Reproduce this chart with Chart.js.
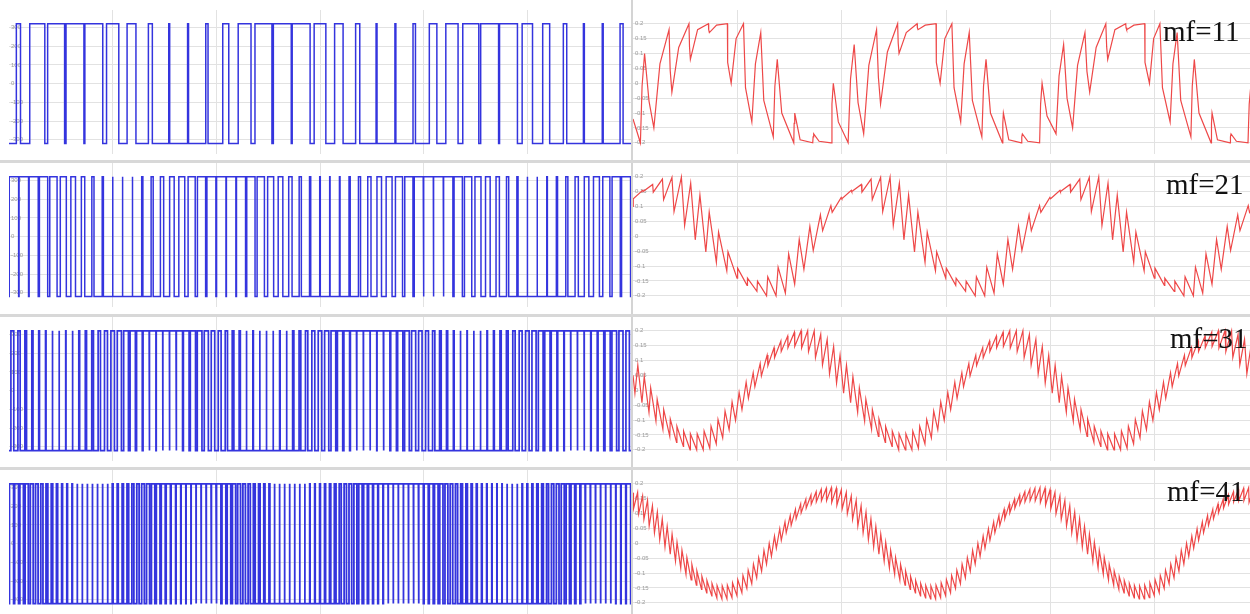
<!DOCTYPE html>
<html>
<head>
<meta charset="utf-8">
<script src="https://cdn.jsdelivr.net/npm/chart.js@4.4.1/dist/chart.umd.min.js"></script>
<style>
  html, body { margin: 0; padding: 0; background: #fff; overflow: hidden; }
  body { width: 1250px; height: 614px; position: relative; }
  canvas { position: absolute; }
  .band { position: absolute; left: 0; width: 1250px; height: 3px; background: #d8d8d8; }
  .split { position: absolute; left: 631px; top: 0; width: 2px; height: 614px; background: #d4d4d4; }
  .mf { position: absolute; font-family: "Liberation Serif", "Times New Roman", serif; font-size: 29px; line-height: 29px; color: #111; white-space: nowrap; }
</style>
</head>
<body>
<script>
// Bipolar PWM (left) and load current (right) for four carrier ratios, 3 cycles of 50 Hz

const mfLabels = ['mf=11', 'mf=21', 'mf=31', 'mf=41'];
const timeTicks = [0.01, 0.02, 0.03, 0.04, 0.05];
const voltTicks = [300, 200, 100, 0, -100, -200, -300];
const currentTicks = [0.2, 0.15, 0.1, 0.05, 0, -0.05, -0.1, -0.15, -0.2];
const busVoltage = 320;
const startCurrent = [-0.12, 0.1, 0.05, 0.17];

// duty of each carrier period, current at switch-on (lo) and switch-off (hi)
const duty11 = [
  0.22, 0.8, 0.9, 0.95, 0.95, 0.65, 0.47, 0.21, 0.05, 0.05, 0.12,
  0.32, 0.68, 0.9, 0.95, 0.95, 0.62, 0.45, 0.22, 0.05, 0.05, 0.13,
  0.4, 0.65, 0.85, 0.95, 0.95, 0.55, 0.37, 0.18, 0.05, 0.05, 0.16
];
const lo11 = [
  -0.2, -0.15, -0.03, 0.08, 0.17, 0.0, -0.13, -0.18, -0.2, -0.2, -0.2,
  -0.2, -0.17, -0.07, 0.1, 0.18, 0.0, -0.13, -0.18, -0.2, -0.2, -0.2,
  -0.17, -0.15, -0.03, 0.08, 0.18, 0.0, -0.13, -0.18, -0.2, -0.2, -0.2
];
const hi11 = [
  0.1, 0.18, 0.2, 0.2, 0.2, 0.2, 0.17, 0.08, -0.1, -0.17, 0.0,
  0.13, 0.18, 0.2, 0.2, 0.2, 0.2, 0.17, 0.08, -0.1, -0.17, 0.0,
  0.13, 0.17, 0.2, 0.2, 0.2, 0.2, 0.17, 0.08, -0.1, -0.17, 0.0
];
// mf=11 ripple is slow enough to show its bend: one reading inside each rise and each fall
const riseMid11 = [
  -0.01, 0.065, 0.12, 0.18, 0.195, 0.15, 0.065, -0.01, -0.135, -0.18, -0.07,
  0.015, 0.06, 0.105, 0.17, 0.195, 0.15, 0.065, -0.01, -0.135, -0.18, -0.07,
  0.025, 0.06, 0.12, 0.18, 0.195, 0.15, 0.065, -0.01, -0.135, -0.18, -0.07
];
const fallMid11 = [
  -0.06, 0.044, 0.122, 0.18, 0.07, -0.015, -0.058, -0.1, -0.19, -0.195, -0.13,
  -0.065, 0.02, 0.135, 0.187, 0.07, -0.015, -0.058, -0.1, -0.19, -0.195, -0.11,
  -0.05, 0.04, 0.122, 0.187, 0.07, -0.015, -0.058, -0.1, -0.19, -0.195, -0.15
];

const duty21 = [
  0.95, 0.96, 0.92, 0.84, 0.74, 0.61, 0.47, 0.34, 0.22, 0.12, 0.06, 0.04, 0.06, 0.12, 0.21, 0.33, 0.46, 0.6, 0.72, 0.83, 0.91,
  0.95, 0.96, 0.92, 0.84, 0.74, 0.61, 0.47, 0.34, 0.22, 0.12, 0.06, 0.04, 0.06, 0.12, 0.21, 0.33, 0.46, 0.6, 0.72, 0.83, 0.91,
  0.95, 0.96, 0.92, 0.84, 0.74, 0.61, 0.47, 0.34, 0.22, 0.12, 0.06, 0.04, 0.06, 0.12, 0.21, 0.33, 0.46, 0.6, 0.72, 0.83, 0.91
];
const lo21 = [
  0.126, 0.15, 0.148, 0.123, 0.083, 0.036, -0.012, -0.053, -0.088, -0.116, -0.141, -0.165, -0.185, -0.2, -0.2, -0.191, -0.161, -0.111, -0.048, 0.019, 0.08,
  0.126, 0.15, 0.148, 0.123, 0.083, 0.036, -0.012, -0.053, -0.088, -0.116, -0.141, -0.165, -0.185, -0.2, -0.2, -0.191, -0.161, -0.111, -0.048, 0.019, 0.08,
  0.126, 0.15, 0.148, 0.123, 0.083, 0.036, -0.012, -0.053, -0.088, -0.116, -0.141, -0.165, -0.185, -0.2, -0.2, -0.191, -0.161, -0.111, -0.048, 0.019, 0.08
];
const hi21 = [
  0.154, 0.174, 0.192, 0.198, 0.199, 0.178, 0.138, 0.081, 0.014, -0.052, -0.107, -0.141, -0.151, -0.136, -0.104, -0.059, -0.011, 0.033, 0.072, 0.103, 0.13,
  0.154, 0.174, 0.192, 0.198, 0.199, 0.178, 0.138, 0.081, 0.014, -0.052, -0.107, -0.141, -0.151, -0.136, -0.104, -0.059, -0.011, 0.033, 0.072, 0.103, 0.13,
  0.154, 0.174, 0.192, 0.198, 0.199, 0.178, 0.138, 0.081, 0.014, -0.052, -0.107, -0.141, -0.151, -0.136, -0.104, -0.059, -0.011, 0.033, 0.072, 0.103, 0.13
];

const duty31 = [
  0.43, 0.34, 0.25, 0.18, 0.12, 0.08, 0.05, 0.04, 0.05, 0.08, 0.13, 0.19, 0.26, 0.35, 0.44, 0.53, 0.62, 0.71, 0.79, 0.85, 0.91, 0.94, 0.96, 0.96, 0.94, 0.9, 0.85, 0.78, 0.7, 0.61, 0.52,
  0.43, 0.34, 0.25, 0.18, 0.12, 0.08, 0.05, 0.04, 0.05, 0.08, 0.13, 0.19, 0.26, 0.35, 0.44, 0.53, 0.62, 0.71, 0.79, 0.85, 0.91, 0.94, 0.96, 0.96, 0.94, 0.9, 0.85, 0.78, 0.7, 0.61, 0.52,
  0.43, 0.34, 0.25, 0.18, 0.12, 0.08, 0.05, 0.04, 0.05, 0.08, 0.13, 0.19, 0.26, 0.35, 0.44, 0.53, 0.62, 0.71, 0.79, 0.85, 0.91, 0.94, 0.96, 0.96, 0.94, 0.9, 0.85, 0.78, 0.7, 0.61, 0.52
];
const lo31 = [
  -0.01, -0.042, -0.074, -0.104, -0.131, -0.155, -0.175, -0.189, -0.2, -0.2, -0.2, -0.195, -0.18, -0.16, -0.133, -0.101, -0.065, -0.027, 0.012, 0.048, 0.083, 0.109, 0.13, 0.143, 0.147, 0.142, 0.13, 0.11, 0.085, 0.055, 0.024,
  -0.01, -0.042, -0.074, -0.104, -0.131, -0.155, -0.175, -0.189, -0.2, -0.2, -0.2, -0.195, -0.18, -0.16, -0.133, -0.101, -0.065, -0.027, 0.012, 0.048, 0.083, 0.109, 0.13, 0.143, 0.147, 0.142, 0.13, 0.11, 0.085, 0.055, 0.024,
  -0.01, -0.042, -0.074, -0.104, -0.131, -0.155, -0.175, -0.189, -0.2, -0.2, -0.2, -0.195, -0.18, -0.16, -0.133, -0.101, -0.065, -0.027, 0.012, 0.048, 0.083, 0.109, 0.13, 0.143, 0.147, 0.142, 0.13, 0.11, 0.085, 0.055, 0.024
];
const hi31 = [
  0.084, 0.046, 0.008, -0.03, -0.065, -0.097, -0.121, -0.137, -0.146, -0.146, -0.137, -0.121, -0.098, -0.07, -0.039, -0.007, 0.027, 0.059, 0.09, 0.118, 0.143, 0.165, 0.182, 0.195, 0.2, 0.2, 0.2, 0.188, 0.171, 0.147, 0.118,
  0.084, 0.046, 0.008, -0.03, -0.065, -0.097, -0.121, -0.137, -0.146, -0.146, -0.137, -0.121, -0.098, -0.07, -0.039, -0.007, 0.027, 0.059, 0.09, 0.118, 0.143, 0.165, 0.182, 0.195, 0.2, 0.2, 0.2, 0.188, 0.171, 0.147, 0.118,
  0.084, 0.046, 0.008, -0.03, -0.065, -0.097, -0.121, -0.137, -0.146, -0.146, -0.137, -0.121, -0.098, -0.07, -0.039, -0.007, 0.027, 0.059, 0.09, 0.118, 0.143, 0.165, 0.182, 0.195, 0.2, 0.2, 0.2, 0.188, 0.171, 0.147, 0.118
];

const duty41 = [
  0.82, 0.77, 0.71, 0.64, 0.57, 0.5, 0.43, 0.36, 0.3, 0.24, 0.18, 0.14, 0.1, 0.07, 0.05, 0.04, 0.04, 0.06, 0.08, 0.11, 0.16, 0.21, 0.26, 0.33, 0.39, 0.46, 0.53, 0.6, 0.67, 0.73, 0.79, 0.84, 0.89, 0.92, 0.94, 0.96, 0.96, 0.95, 0.93, 0.91, 0.87,
  0.82, 0.77, 0.71, 0.64, 0.57, 0.5, 0.43, 0.36, 0.3, 0.24, 0.18, 0.14, 0.1, 0.07, 0.05, 0.04, 0.04, 0.06, 0.08, 0.11, 0.16, 0.21, 0.26, 0.33, 0.39, 0.46, 0.53, 0.6, 0.67, 0.73, 0.79, 0.84, 0.89, 0.92, 0.94, 0.96, 0.96, 0.95, 0.93, 0.91, 0.87,
  0.82, 0.77, 0.71, 0.64, 0.57, 0.5, 0.43, 0.36, 0.3, 0.24, 0.18, 0.14, 0.1, 0.07, 0.05, 0.04, 0.04, 0.06, 0.08, 0.11, 0.16, 0.21, 0.26, 0.33, 0.39, 0.46, 0.53, 0.6, 0.67, 0.73, 0.79, 0.84, 0.89, 0.92, 0.94, 0.96, 0.96, 0.95, 0.93, 0.91, 0.87
];
const lo41 = [
  0.115, 0.099, 0.08, 0.058, 0.035, 0.012, -0.013, -0.037, -0.06, -0.083, -0.104, -0.123, -0.141, -0.155, -0.167, -0.177, -0.184, -0.187, -0.187, -0.183, -0.176, -0.166, -0.152, -0.136, -0.116, -0.094, -0.07, -0.044, -0.017, 0.01, 0.035, 0.06, 0.082, 0.102, 0.118, 0.131, 0.139, 0.143, 0.143, 0.137, 0.128,
  0.115, 0.099, 0.08, 0.058, 0.035, 0.012, -0.013, -0.037, -0.06, -0.083, -0.104, -0.123, -0.141, -0.155, -0.167, -0.177, -0.184, -0.187, -0.187, -0.183, -0.176, -0.166, -0.152, -0.136, -0.116, -0.094, -0.07, -0.044, -0.017, 0.01, 0.035, 0.06, 0.082, 0.102, 0.118, 0.131, 0.139, 0.143, 0.143, 0.137, 0.128,
  0.115, 0.099, 0.08, 0.058, 0.035, 0.012, -0.013, -0.037, -0.06, -0.083, -0.104, -0.123, -0.141, -0.155, -0.167, -0.177, -0.184, -0.187, -0.187, -0.183, -0.176, -0.166, -0.152, -0.136, -0.116, -0.094, -0.07, -0.044, -0.017, 0.01, 0.035, 0.06, 0.082, 0.102, 0.118, 0.131, 0.139, 0.143, 0.143, 0.137, 0.128
];
const hi41 = [
  0.171, 0.159, 0.144, 0.126, 0.105, 0.082, 0.057, 0.031, 0.004, -0.023, -0.048, -0.071, -0.093, -0.111, -0.125, -0.135, -0.142, -0.143, -0.141, -0.133, -0.122, -0.108, -0.09, -0.07, -0.048, -0.024, 0, 0.024, 0.049, 0.072, 0.093, 0.114, 0.132, 0.148, 0.162, 0.173, 0.181, 0.185, 0.187, 0.185, 0.18,
  0.171, 0.159, 0.144, 0.126, 0.105, 0.082, 0.057, 0.031, 0.004, -0.023, -0.048, -0.071, -0.093, -0.111, -0.125, -0.135, -0.142, -0.143, -0.141, -0.133, -0.122, -0.108, -0.09, -0.07, -0.048, -0.024, 0, 0.024, 0.049, 0.072, 0.093, 0.114, 0.132, 0.148, 0.162, 0.173, 0.181, 0.185, 0.187, 0.185, 0.18,
  0.171, 0.159, 0.144, 0.126, 0.105, 0.082, 0.057, 0.031, 0.004, -0.023, -0.048, -0.071, -0.093, -0.111, -0.125, -0.135, -0.142, -0.143, -0.141, -0.133, -0.122, -0.108, -0.09, -0.07, -0.048, -0.024, 0, 0.024, 0.049, 0.072, 0.093, 0.114, 0.132, 0.148, 0.162, 0.173, 0.181, 0.185, 0.187, 0.185, 0.18
];

const rows = [
  { duty: duty11, lo: lo11, hi: hi11, riseMid: riseMid11, fallMid: fallMid11 },
  { duty: duty21, lo: lo21, hi: hi21 },
  { duty: duty31, lo: lo31, hi: hi31 },
  { duty: duty41, lo: lo41, hi: hi41 }
];

const span = 0.06;
const rowTops = [0, 153, 307, 460];
const labelLeft = [1163, 1166, 1170, 1167];
const pwmWidth = [1.5, 1.5, 1.7, 1.8];

// switching edges of every carrier period -> square wave
function pwmPoints(duty) {
  const tc = span / duty.length;
  const pts = [{ x: 0, y: -busVoltage }];
  duty.forEach((d, k) => {
    const on = (k + 0.5 - d / 2) * tc;
    const off = (k + 0.5 + d / 2) * tc;
    pts.push({ x: on, y: -busVoltage }, { x: on, y: busVoltage },
             { x: off, y: busVoltage }, { x: off, y: -busVoltage });
  });
  pts.push({ x: span, y: -busVoltage });
  return pts;
}

// current turns at the same switching edges
function currentPoints(row, start) {
  const tc = span / row.duty.length;
  const pts = [{ x: 0, y: start }];
  row.duty.forEach((d, k) => {
    const on = (k + 0.5 - d / 2) * tc;
    const off = (k + 0.5 + d / 2) * tc;
    pts.push({ x: on, y: row.lo[k] });
    if (row.riseMid) pts.push({ x: on + 0.4 * (off - on), y: row.riseMid[k] });
    pts.push({ x: off, y: row.hi[k] });
    if (row.fallMid) pts.push({ x: off + 0.3 * (1 - d) * tc, y: row.fallMid[k] });
  });
  return pts;
}

function makeChart(opts) {
  const canvas = document.createElement('canvas');
  canvas.width = opts.width;
  canvas.height = 160;
  canvas.style.left = opts.left + 'px';
  canvas.style.top = opts.top + 'px';
  document.body.appendChild(canvas);

  return new Chart(canvas, {
    type: 'line',
    data: {
      datasets: [{
        data: opts.points,
        borderColor: opts.color,
        borderWidth: opts.lineWidth,
        pointRadius: 0,
        tension: 0,
        fill: false
      }]
    },
    options: {
      responsive: false,
      animation: false,
      events: [],
      layout: { padding: { left: opts.padLeft, right: opts.padRight, top: 10, bottom: 2 } },
      plugins: { legend: { display: false }, tooltip: { enabled: false } },
      scales: {
        x: {
          type: 'linear',
          min: 0,
          max: span,
          afterBuildTicks: s => { s.ticks = timeTicks.map(v => ({ value: v })); },
          afterFit: s => { s.height = 0; },
          grid: { color: '#e2e2e2', drawTicks: false },
          border: { display: false },
          ticks: { display: opts.showTime, color: '#9a9a9a', font: { size: 6 }, padding: 1 }
        },
        y: {
          min: opts.yMin,
          max: opts.yMax,
          afterBuildTicks: s => { s.ticks = opts.yTicks.map(v => ({ value: v })); },
          afterFit: s => { s.width = 0; },
          grid: { color: '#e2e2e2', drawTicks: false },
          border: { display: false },
          ticks: { mirror: true, padding: 2, color: '#9a9a9a', font: { size: 6 },
                   callback: v => String(v) }
        }
      }
    }
  });
}

rows.forEach((row, r) => {
  makeChart({
    left: 0, top: rowTops[r], width: 632, padLeft: 9, padRight: 1,
    points: pwmPoints(row.duty),
    color: 'rgb(52,52,222)', lineWidth: pwmWidth[r],
    yMin: -378, yMax: 394, yTicks: voltTicks,
    showTime: r === rows.length - 1
  });
});

const split = document.createElement('div');
split.className = 'split';
document.body.appendChild(split);

rows.forEach((row, r) => {
  makeChart({
    left: 633, top: rowTops[r], width: 626, padLeft: 0, padRight: 0,
    points: currentPoints(row, startCurrent[r]),
    color: 'rgb(238,72,72)', lineWidth: 1.2,
    yMin: -0.239, yMax: 0.246, yTicks: currentTicks,
    showTime: r === rows.length - 1
  });
});

// grey seams between the stacked screenshots
rowTops.slice(1).forEach(top => {
  const band = document.createElement('div');
  band.className = 'band';
  band.style.top = (top + 7) + 'px';
  document.body.appendChild(band);
});

mfLabels.forEach((text, r) => {
  const label = document.createElement('div');
  label.className = 'mf';
  label.textContent = text;
  label.style.left = labelLeft[r] + 'px';
  label.style.top = (rowTops[r] + 17) + 'px';
  document.body.appendChild(label);
});
</script>
</body>
</html>
